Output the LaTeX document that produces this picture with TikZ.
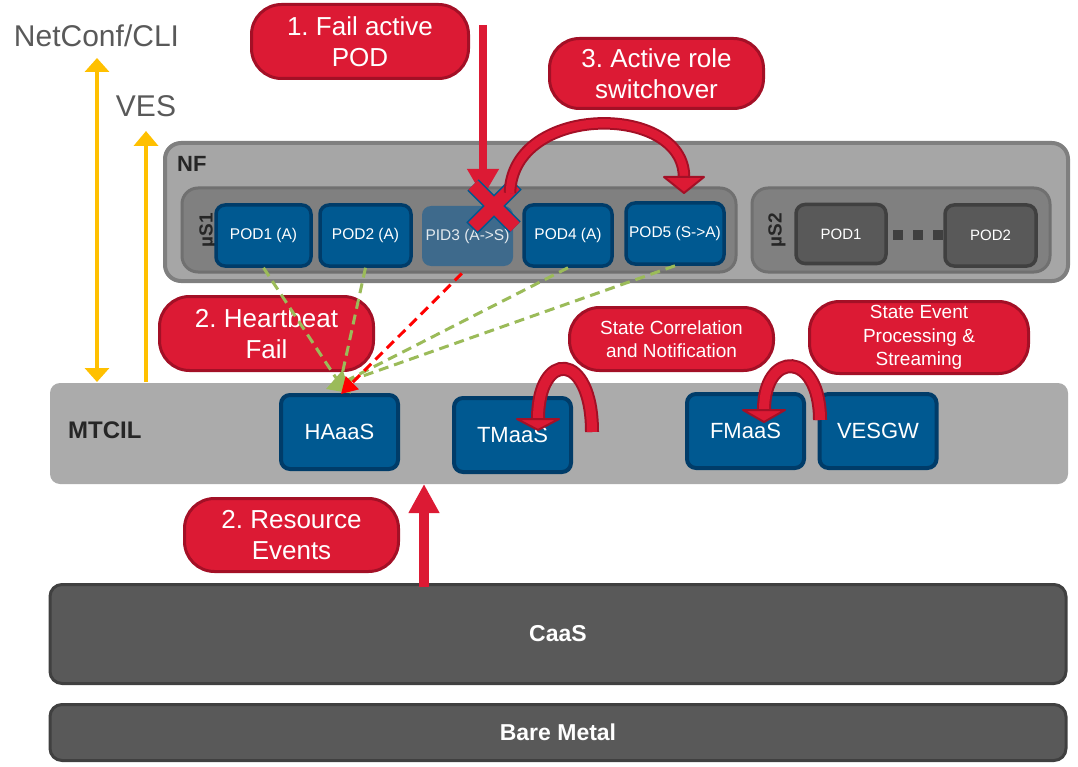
\documentclass[tikz,border=0pt]{standalone}
\usepackage{fontspec}
\setmainfont{Liberation Sans}
\usepackage{xcolor}
\usetikzlibrary{arrows.meta}
\frenchspacing
\definecolor{podblue}{RGB}{0, 89, 145}
\definecolor{podedge}{RGB}{0, 60, 105}
\definecolor{podfade}{RGB}{62, 106, 140}
\definecolor{calloutred}{RGB}{220, 26, 52}
\definecolor{calloutedge}{RGB}{163, 16, 38}
\definecolor{nfgray}{RGB}{166, 166, 166}
\definecolor{nfedge}{RGB}{127, 127, 127}
\definecolor{msgray}{RGB}{128, 128, 128}
\definecolor{msedge}{RGB}{112, 112, 112}
\definecolor{mtcilgray}{RGB}{171, 171, 171}
\definecolor{darkgray}{RGB}{89, 89, 89}
\definecolor{darkedge}{RGB}{64, 64, 64}
\definecolor{vesyellow}{RGB}{255, 192, 0}
\definecolor{hbgreen}{RGB}{155, 187, 89}
\definecolor{labelgray}{RGB}{38, 38, 38}
\definecolor{textgray}{RGB}{89, 89, 89}

\begin{document}
\begin{tikzpicture}[x=1pt, y=-1pt,
    pod/.style={draw=podedge, fill=podblue, line width=3.5pt, rounded corners=9pt, text=white,
        font=\fontsize{15.5}{18}\selectfont, inner sep=0pt},
    greypod/.style={pod, draw=darkedge, fill=darkgray, font=\fontsize{15}{18}\selectfont},
    service/.style={pod, line width=4pt, font=\fontsize{22}{26}\selectfont, minimum width=117pt, minimum height=74pt},
    msbox/.style={draw=msedge, fill=msgray, line width=3pt, rounded corners=16pt, minimum height=84pt, inner sep=0pt},
    mslabel/.style={rotate=90, inner sep=0pt, text=labelgray, font=\bfseries\fontsize{19}{22}\selectfont},
    layer/.style={draw=darkedge, fill=darkgray, line width=3pt, rounded corners=12pt, text=white,
        font=\bfseries\fontsize{23}{27}\selectfont, minimum width=1016pt, inner sep=0pt},
    callout/.style={draw=calloutedge, fill=calloutred, line width=3pt, rounded corners=30pt, text=white,
        align=center, font=\fontsize{26}{31}\selectfont, inner sep=0pt},
    smallcallout/.style={callout, font=\fontsize{19}{23.5}\selectfont},
    heartbeat/.style={hbgreen, line width=3pt, dash pattern=on 10pt off 6pt},
    bigarrow/.style={line width=2pt, draw=calloutedge, double=calloutred, double distance=8.5pt},
    loophead/.style={fill=calloutred, draw=calloutedge, line width=2pt, line join=round}
]
\useasboundingbox (0,0) rectangle (1078,767);

% NF with its two micro services
\node[draw=nfedge, fill=nfgray, line width=4pt, rounded corners=16pt, minimum width=903pt, minimum height=138pt] (nf) at (616.5,212) {};
\node[anchor=base west, inner sep=0pt, text=labelgray, font=\bfseries\fontsize{22}{26}\selectfont] (nflabel) at (177,172) {NF};
\node[msbox, minimum width=554pt] (ms1) at (459,230) {};
\node[msbox, minimum width=298pt] (ms2) at (901,230) {};
\node[mslabel] (ms1label) at (208,230) {µS1};
\node[mslabel] (ms2label) at (777,230) {µS2};

% PODs
\node[pod, minimum width=95pt, minimum height=61pt] (pod1) at (263.5,235.5) {POD1 (A)};
\node[pod, minimum width=91pt, minimum height=61pt] (pod2) at (365.5,235.5) {POD2 (A)};
\node[pod, draw=none, fill=podfade, text=white!85!podfade, minimum width=91pt, minimum height=60pt] (pid3) at (467.5,236) {PID3 (A->S)};
\node[pod, minimum width=88pt, minimum height=61pt] (pod4) at (568,235.5) {POD4 (A)};
\node[pod, minimum width=98pt, minimum height=61pt] (pod5) at (675,233.5) {POD5 (S->A)};
\node[greypod, minimum width=90pt, minimum height=59pt] (s2pod1) at (841,234) {POD1};
\node[greypod, minimum width=91pt, minimum height=61pt] (s2pod2) at (990.5,235.5) {POD2};
\foreach \x in {898,918,938}
    \fill[darkedge] (\x-5,230) rectangle (\x+5,240);

% MTCIL
\node[fill=mtcilgray, rounded corners=10pt, minimum width=1018pt, minimum height=101pt, inner sep=0pt] (mtcil) at (559,433.5) {};
\node[anchor=base west, inner sep=0pt, text=labelgray, font=\bfseries\fontsize{24}{28}\selectfont] (mtcillabel) at (68,438) {MTCIL};
\node[service] (haaas) at (339.5,432) {HAaaS};
\node[service] (tmaas) at (512.5,435) {TMaaS};
\node[service] (fmaas) at (745.5,431) {FMaaS};
\node[service] (vesgw) at (878,431) {VESGW};

% CaaS and bare metal
\node[layer, minimum height=99pt] (caas) at (558,634) {CaaS};
\node[layer, minimum height=56pt] (bare) at (558,732.5) {Bare Metal};

% northbound interfaces
\node[anchor=base, inner sep=0pt, text=textgray, font=\fontsize{30}{36}\selectfont] (netconf) at (96.5,47) {NetConf/CLI};
\node[anchor=base, inner sep=0pt, text=textgray, font=\fontsize{30}{36}\selectfont] (ves) at (146,117) {VES};
\coordinate (netconf top) at (97,58);
\coordinate (netconf bottom) at (97,382);
\coordinate (ves top) at (146,131);
\coordinate (ves bottom) at (146,382);
\draw[vesyellow, line width=4pt, {Triangle[width=24pt,length=14pt]}-{Triangle[width=24pt,length=14pt]}] (netconf top) -- (netconf bottom);
\draw[vesyellow, line width=4pt, -{Triangle[width=24pt,length=15pt]}] (ves bottom) -- (ves top);

% call outs
\node[callout, minimum width=217pt, minimum height=74pt] (fail) at (360,41.5) {1. Fail active\\POD};
\node[callout, minimum width=214pt, minimum height=70pt] (switch) at (656.5,73.5) {3. Active role\\switchover};
\node[callout, minimum width=214pt, minimum height=74pt] (hbfail) at (266.5,333.5) {2. Heartbeat\\Fail};
\node[smallcallout, minimum width=204pt, minimum height=63pt] (statecorr) at (671.5,339) {State Correlation\\and Notification};
\node[smallcallout, minimum width=219pt, minimum height=72pt] (stateevent) at (919,337.5) {State Event\\Processing \&\\Streaming};
\node[callout, minimum width=214pt, minimum height=73pt] (resource) at (291.5,535) {2. Resource\\Events};

% fail arrow and resource events arrow
\coordinate (fail start) at (483,25);
\coordinate (fail end) at (483,197);
\draw[calloutred, line width=8pt, -{Triangle[width=30pt,length=28pt]}] (fail start) -- (fail end);
\coordinate (res start) at (424,587);
\coordinate (res end) at (424,484);
\draw[calloutred, line width=10pt, -{Triangle[width=29pt,length=29pt]}] (res start) -- (res end);

% failed POD cross
\draw[podblue, line width=16pt, shorten <=-1.5pt, shorten >=-1.5pt] (473,185) -- (515,227) (515,185) -- (473,227);
\draw[calloutred, line width=13pt] (473,185) -- (515,227) (515,185) -- (473,227);

% switchover and loop arrows
\coordinate (switch start) at (510,193);
\coordinate (switch end) at (684,177);
\draw[bigarrow] (switch start) .. controls (512,103) and (684,103) .. (switch end);
\filldraw[loophead] (664,177) -- (704,177) -- (684,193) -- cycle;
\coordinate (tm start) at (592,432);
\coordinate (tm end) at (538,419);
\draw[bigarrow, double distance=10pt] (tm start) .. controls (592,350) and (538,350) .. (tm end);
\filldraw[loophead] (517,419) -- (559,419) -- (538,430) -- cycle;
\coordinate (fm start) at (820,420);
\coordinate (fm end) at (764,410);
\draw[bigarrow, double distance=10pt] (fm start) .. controls (820,350) and (764,350) .. (fm end);
\filldraw[loophead] (743,410) -- (785,410) -- (764,422) -- cycle;

% heartbeats to HAaaS
\coordinate (hb mid) at (340,384);
\coordinate (hb green) at (326,389);
\coordinate (hb red) at (341,394);
\draw[heartbeat] (pod1.south) -- (hb mid);
\draw[heartbeat] (pod2.south) -- (hb mid);
\draw[heartbeat] (pod4.south) -- (hb mid);
\draw[heartbeat, -{Triangle[width=24pt,length=22pt]}] (pod5.south) -- (hb green);
\draw[heartbeat, red, shorten <=8pt, -{Triangle[width=18pt,length=16pt]}] (pid3.south) -- (hb red);
\end{tikzpicture}
\end{document}
